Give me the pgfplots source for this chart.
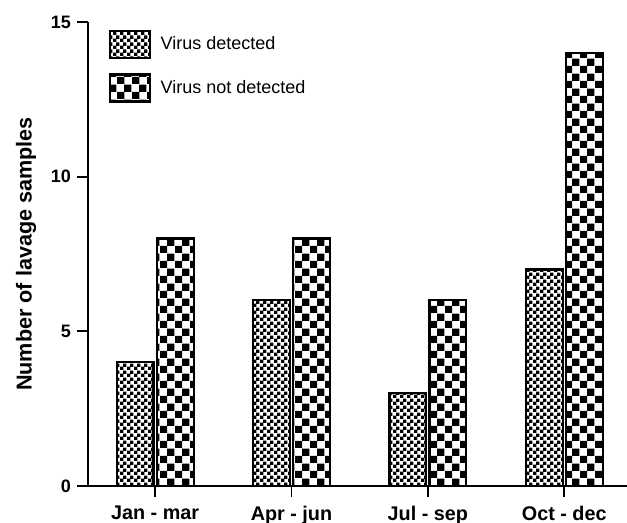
\documentclass[border=0pt]{standalone}
\usepackage{fontspec}
\setmainfont{Liberation Sans}
\usepackage{pgfplots}
\pgfplotsset{compat=1.18}
\usetikzlibrary{patterns}
\pgfdeclarepatternformonly{finecheck}{\pgfpointorigin}{\pgfqpoint{3.7pt}{3.7pt}}{\pgfqpoint{3.7pt}{3.7pt}}{%
  \pgfpathrectangle{\pgfpointorigin}{\pgfqpoint{1.9pt}{1.9pt}}%
  \pgfpathrectangle{\pgfqpoint{1.85pt}{1.85pt}}{\pgfqpoint{1.9pt}{1.9pt}}%
  \pgfusepath{fill}}
\pgfdeclarepatternformonly{coarsecheck}{\pgfpointorigin}{\pgfqpoint{8.1pt}{8.1pt}}{\pgfqpoint{8.1pt}{8.1pt}}{%
  \pgfpathrectangle{\pgfpointorigin}{\pgfqpoint{4.1pt}{4.1pt}}%
  \pgfpathrectangle{\pgfqpoint{4.05pt}{4.05pt}}{\pgfqpoint{4.1pt}{4.1pt}}%
  \pgfusepath{fill}}
\begin{document}
\begin{tikzpicture}
\begin{axis}[
  scale only axis, width=299.4pt, height=257.8pt,
  xmin=0.508, xmax=4.46, ymin=0, ymax=15,
  axis x line=bottom, axis y line=left,
  axis line style={line width=1pt, -},
  xtick={1,2,3,4},
  xticklabels={Jan - mar, Apr - jun, Jul - sep, Oct - dec},
  ytick={0,5,10,15},
  tick align=outside, major tick length=6pt,
  tick style={black, line width=1pt},
  minor tick num=0,
  /pgf/number format/assume math mode=true,
  yticklabel style={font=\bfseries\fontsize{10}{12}\selectfont},
  xticklabel style={font=\bfseries\fontsize{11}{13}\selectfont, yshift=-1.5pt},
  ylabel={Number of lavage samples},
  ylabel style={font=\bfseries\fontsize{12}{14}\selectfont, at={(axis description cs:-0.115,0.5)}, anchor=center},
  ybar, bar width=0.27,
  legend image code/.code={\draw[#1, line width=1.2pt] (0pt,-7.5pt) rectangle (22pt,7.5pt);},
  legend cell align=left,
  legend style={draw=none, fill=none, inner sep=0pt, outer sep=0pt,
    at={(axis description cs:0.039,0.983)}, anchor=north west,
    row sep=8pt, column sep=5.5pt,
    font=\fontsize{10}{12}\selectfont,
    nodes={inner sep=0pt}},
]
\addplot[draw=black, line width=1.2pt, pattern=finecheck, bar shift=-0.147]
  coordinates {(1,4) (2,6) (3,3) (4,7)};
\addlegendentry{Virus detected}
\addplot[draw=black, line width=1.2pt, pattern=coarsecheck, bar shift=0.147]
  coordinates {(1,8) (2,8) (3,6) (4,14)};
\addlegendentry{Virus not detected}
\coordinate (bl) at (rel axis cs:0,0);
\coordinate (tr) at (rel axis cs:1,1);
\end{axis}
\pgfresetboundingbox
\path[use as bounding box] ([xshift=-48.9pt,yshift=-20pt]bl) rectangle ([yshift=12.2pt]tr);
\end{tikzpicture}
\end{document}
